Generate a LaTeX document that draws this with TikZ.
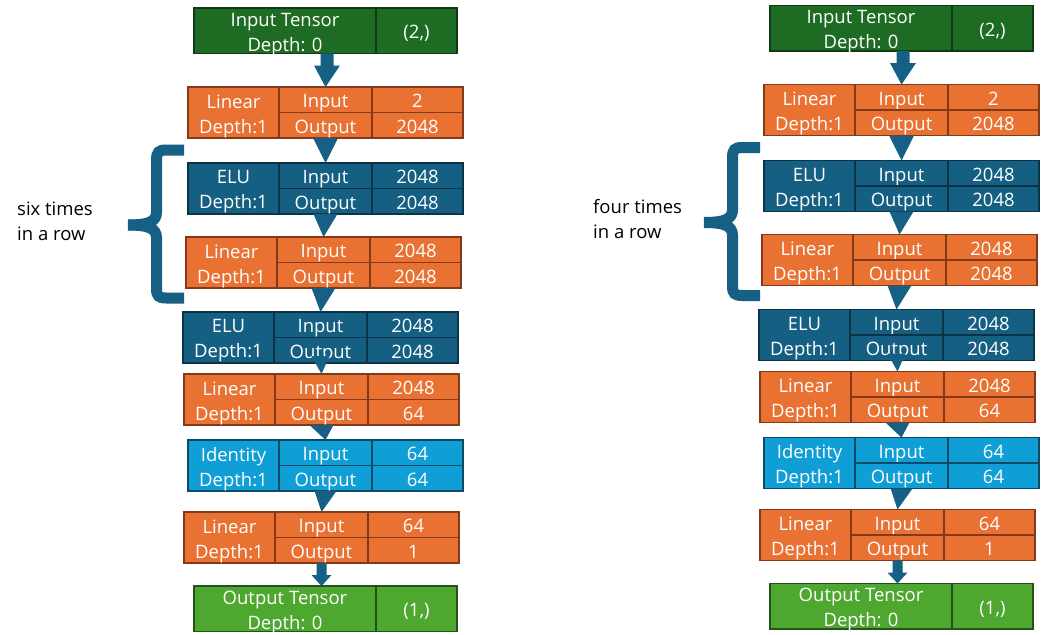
\documentclass[tikz,border=0pt]{standalone}
\usepackage{fontspec}
\setmainfont{Open Sans}
\usetikzlibrary{calc}
\definecolor{orangeF}{HTML}{E97132}
\definecolor{orangeD}{HTML}{84391A}
\definecolor{blueF}{HTML}{156082}
\definecolor{blueD}{HTML}{0C3447}
\definecolor{lblueF}{HTML}{0F9ED5}
\definecolor{lblueD}{HTML}{0C4A66}
\definecolor{dgreenF}{HTML}{1E6B24}
\definecolor{dgreenD}{HTML}{103A13}
\definecolor{lgreenF}{HTML}{4EA72E}
\definecolor{lgreenD}{HTML}{25521A}
\definecolor{arrowC}{HTML}{166085}
\tikzset{
 cell/.style={draw, line width=1.3pt, inner sep=0pt, outer sep=0pt, text=white, align=center,
   font=\fontsize{18.5}{25}\selectfont, anchor=north west},
 onel/.style={text height=16pt, text depth=0pt},
 celltext/.style={text=white, align=center, font=\fontsize{18.5}{25}\selectfont, inner sep=0pt, yshift=-3.5pt},
 linbox/.style={cell, fill=orangeF, draw=orangeD},
 elubox/.style={cell, fill=blueF, draw=blueD},
 idbox/.style={cell, fill=lblueF, draw=lblueD},
 intbox/.style={cell, fill=dgreenF, draw=dgreenD},
 outtbox/.style={cell, fill=lgreenF, draw=lgreenD},
 tri/.style={fill=arrowC},
 bracec/.style={draw=arrowC, line width=11pt},
 lbl/.style={font=\fontsize{18.5}{25}\selectfont, align=left, anchor=north west, inner sep=0pt}
}
% #1 name, #2 x, #3 y, #4 style, #5 type, #6 in, #7 out
\newcommand{\layerbox}[7]{%
 \node[#4, minimum width=91pt, minimum height=51pt] (#1) at (#2,#3) {};
 \node[celltext] (#1-t) at (#1.center) {#5\\Depth:1};
 \node[#4, onel, minimum width=93pt, minimum height=25.5pt] (#1-i) at (#1.north east) {Input};
 \node[#4, onel, minimum width=91pt, minimum height=25.5pt] (#1-iv) at (#1-i.north east) {#6};
 \node[#4, onel, minimum width=93pt, minimum height=25.5pt] (#1-o) at (#1-i.south west) {Output};
 \node[#4, onel, minimum width=91pt, minimum height=25.5pt] (#1-ov) at (#1-o.north east) {#7};
}
% #1 name, #2 x, #3 y, #4 style, #5 text, #6 shape
\newcommand{\tensorbox}[6]{%
 \node[#4, minimum width=182pt, minimum height=45.5pt] (#1) at (#2,#3) {};
 \node[celltext] (#1-t) at (#1.center) {#5};
 \node[#4, onel, minimum width=81pt, minimum height=45.5pt] (#1-s) at (#1.north east) {#6};
}
% triangle connector from layer #1 to layer #2, #3 half width, #4 lift into upper box
\newcommand{\tricon}[4]{%
 \fill[tri] ($(#1-o.south)+(-#3,-#4)$) -- ($(#1-o.south)+(#3,-#4)$) -- (#2-i.north) -- cycle;
}
% #1 prefix, #2 label
\newcommand{\netcolumn}[2]{%
 \tensorbox{#1in}{194}{8}{intbox}{Input Tensor\\Depth: 0}{(2,)}
 \layerbox{#1L1}{188}{87}{linbox}{Linear}{2}{2048}
 \layerbox{#1E1}{188}{163}{elubox}{ELU}{2048}{2048}
 \layerbox{#1L2}{186}{237}{linbox}{Linear}{2048}{2048}
 \layerbox{#1E2}{183}{312}{elubox}{ELU}{2048}{2048}
 \layerbox{#1L3}{184}{374}{linbox}{Linear}{2048}{64}
 \layerbox{#1Id}{188}{440}{idbox}{Identity}{64}{64}
 \layerbox{#1L4}{184}{512}{linbox}{Linear}{64}{1}
 \tensorbox{#1out}{194}{586}{outtbox}{Output Tensor\\Depth: 0}{(1,)}
 % first arrow
 \coordinate (#1a0) at ($(#1in.south west)!0.5!(#1in-s.south east)+(1.5,0)$);
 \fill[tri] ($(#1a0)+(-6.5,0)$) -- ($(#1a0)+(6.5,0)$) -- ($(#1a0)+(6.5,12)$) -- ($(#1a0)+(13,12)$)
   -- (#1L1-i.north) -- ($(#1a0)+(-13,12)$) -- ($(#1a0)+(-6.5,12)$) -- cycle;
 \tricon{#1L1}{#1E1}{12.5}{0}
 \tricon{#1E1}{#1L2}{12}{0}
 \tricon{#1L2}{#1E2}{12}{0}
 \tricon{#1E2}{#1L3}{9}{7}
 \tricon{#1L3}{#1Id}{12}{0}
 \tricon{#1Id}{#1L4}{11}{0}
 % last arrow
 \coordinate (#1a1) at (#1L4-o.south);
 \fill[tri] ($(#1a1)+(-5,0)$) -- ($(#1a1)+(5,0)$) -- ($(#1a1)+(5,12)$) -- ($(#1a1)+(10,12)$)
   -- ($(#1a1)+(0,23)$) -- ($(#1a1)+(-10,12)$) -- ($(#1a1)+(-5,12)$) -- cycle;
 % brace
 \draw[bracec] (184,150) -- (166,150) .. controls (159,150) and (156.5,152) .. (156.5,160)
   -- (156.5,212) .. controls (156.5,221) and (150,225) .. (128,225);
 \draw[bracec] (128,225) .. controls (150,225) and (156.5,229) .. (156.5,238)
   -- (156.5,289) .. controls (156.5,296) and (159,298) .. (166,298) -- (184,298);
 \node[lbl] (#1lab) at (17,202) {#2};
}
\begin{document}
\begin{tikzpicture}[x=1pt,y=-1pt]
\useasboundingbox (0,0) rectangle (1048,634);
\fill[white] (0,0) rectangle (1048,634);
\netcolumn{a}{six times\\in a row}
\begin{scope}[shift={(576,-2.5)}]
\netcolumn{b}{four times\\in a row}
\end{scope}
\end{tikzpicture}
\end{document}
